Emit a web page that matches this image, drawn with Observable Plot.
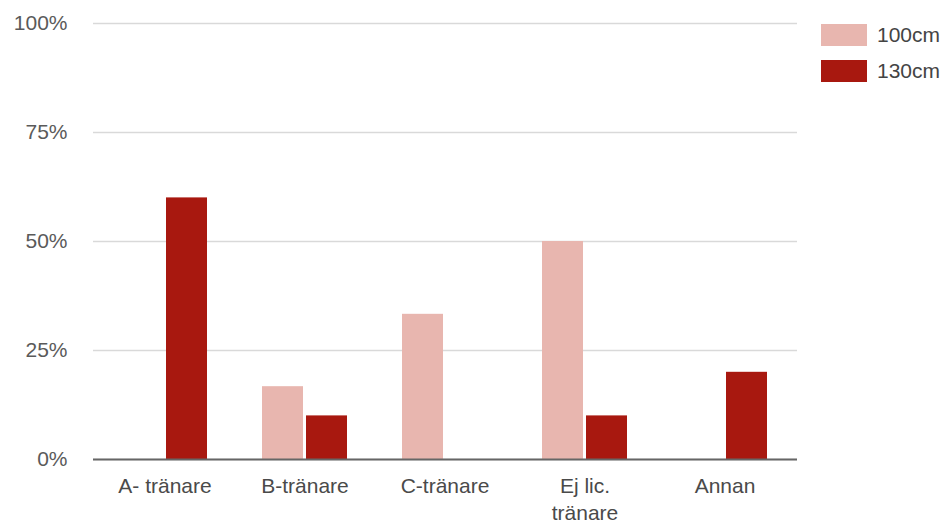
<!DOCTYPE html>
<html>
<head>
<meta charset="utf-8">
<script src="https://cdn.jsdelivr.net/npm/d3@7"></script>
<script src="https://cdn.jsdelivr.net/npm/@observablehq/plot@0.6"></script>
<style>
  html, body { margin: 0; padding: 0; background: #fff; }
  #wrap { position: relative; width: 946px; height: 525px; font-family: "Liberation Sans", Arial, sans-serif; }
  #legend { position: absolute; left: 821px; top: 24px; }
  .item { display: flex; align-items: center; height: 22px; margin-bottom: 14px; font-size: 21px; color: #444; }
  .sw { width: 46px; height: 22px; margin-right: 10px; }
</style>
</head>
<body>
<div id="wrap"><div id="legend"></div></div>
<script>
const categories = ["A- tränare", "B-tränare", "C-tränare", "Ej lic. tränare", "Annan"];
const categoryLabels = ["A- tränare", "B-tränare", "C-tränare", "Ej lic.\ntränare", "Annan"];
const seriesNames = ["100cm", "130cm"];
const values100 = [0, 0.167, 0.333, 0.50, 0];
const values130 = [0.60, 0.10, 0, 0.10, 0.20];
const yTicks = [0, 0.25, 0.5, 0.75, 1];
const colors = ["#e8b6af", "#a8180f"];

const data100 = categories.map((c, i) => ({cat: c, series: seriesNames[0], value: values100[i]}));
const data130 = categories.map((c, i) => ({cat: c, series: seriesNames[1], value: values130[i]}));
const labelOf = new Map(categories.map((c, i) => [c, categoryLabels[i]]));

const chart = Plot.plot({
  width: 946,
  height: 525,
  marginLeft: 93,
  marginRight: 149,
  marginTop: 23,
  marginBottom: 66,
  style: {fontFamily: "'Liberation Sans', Arial, sans-serif", fontSize: "21px", color: "#444", background: "#fff"},
  x: {domain: categories, paddingInner: 0.39, paddingOuter: 0.195, label: null},
  y: {domain: [0, 1], label: null},
  color: {domain: seriesNames, range: colors},
  marks: [
    Plot.gridY(yTicks, {stroke: "#d9d9d9", strokeOpacity: 1, strokeWidth: 1.5}),
    Plot.axisY(yTicks, {tickFormat: d3.format(".0%"), tickSize: 0, tickPadding: 26, fontSize: 21, fill: "#5a5a5a", label: null}),
    Plot.barY(data100, {x: "cat", y: "value", fill: "series", insetRight: 44}),
    Plot.barY(data130, {x: "cat", y: "value", fill: "series", insetLeft: 44}),
    Plot.axisX({tickSize: 0, tickPadding: 14, fontSize: 21, fill: "#4a4a4a", lineHeight: 1.3, tickFormat: d => labelOf.get(d), label: null}),
    Plot.ruleY([0], {stroke: "#666", strokeWidth: 2})
  ]
});
document.getElementById("wrap").prepend(chart);

const legend = document.getElementById("legend");
seriesNames.forEach((s, i) => {
  const it = document.createElement("div");
  it.className = "item";
  it.innerHTML = `<div class="sw" style="background:${colors[i]}"></div><span>${s}</span>`;
  legend.appendChild(it);
});
</script>
</body>
</html>
